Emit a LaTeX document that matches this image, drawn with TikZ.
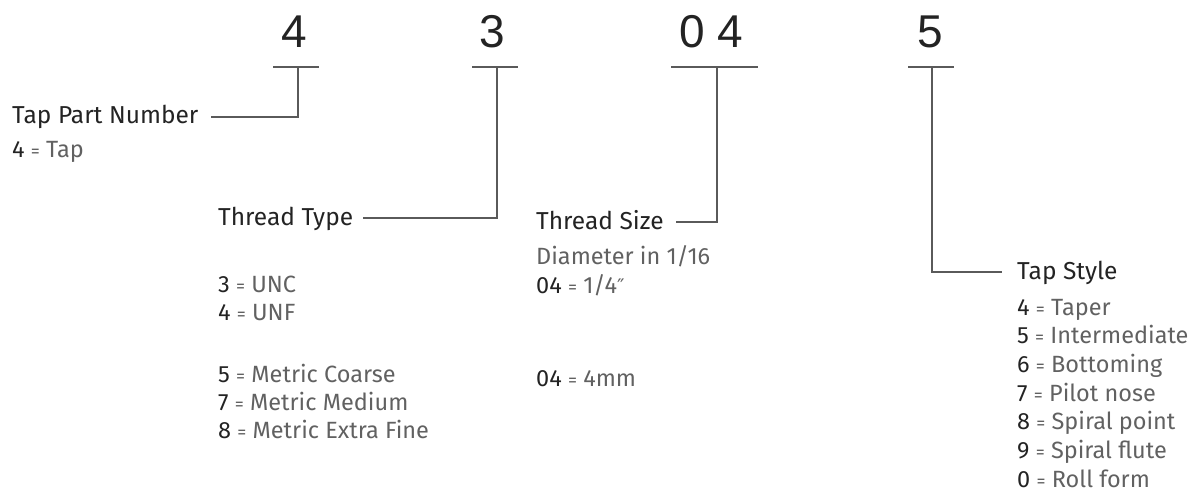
\documentclass[tikz,border=0pt]{standalone}
\usepackage{fontspec}
\setmainfont{Fira Sans}
\newfontfamily\digitfont{Liberation Sans}
\newfontfamily\symfont{DejaVu Sans}
\definecolor{ink}{HTML}{232323}
\definecolor{desc}{HTML}{616161}
\definecolor{rulec}{HTML}{5A5A5A}
\newcommand{\ent}[2]{\textcolor{ink}{#1} {\fontsize{18}{18}\selectfont=} #2}
\tikzset{
  bigdigit/.style={font=\digitfont\fontsize{46}{46}\selectfont, text=ink, inner sep=0pt, anchor=base},
  head/.style={font=\fontsize{24.5}{24.5}\selectfont, text=ink, inner sep=0pt, anchor=base west, text height=18pt, text depth=4.5pt},
  entry/.style={font=\fontsize{23.5}{23.5}\selectfont, text=desc, inner sep=0pt, anchor=base west},
  bar/.style={draw=rulec, line width=2.3pt},
  link/.style={draw=rulec, line width=2.3pt},
}
\begin{document}
\begin{tikzpicture}[x=1pt,y=-1pt]
\useasboundingbox (0,0) rectangle (1198,497);
% big digits
\node[bigdigit] (d1) at (294,48) {4};
\node[bigdigit] (d2) at (492,48) {3};
\node[bigdigit] (d3) at (711.5,48) {0 4};
\node[bigdigit] (d4) at (930.5,48) {5};
% stems on the bars
\coordinate (s1) at (298,67);
\coordinate (s2) at (497,67);
\coordinate (s3) at (717,67);
\coordinate (s4) at (932,67);
\draw[bar] (273,67) -- (319,67);
\draw[bar] (472,67) -- (518,67);
\draw[bar] (671,67) -- (758,67);
\draw[bar] (908,67) -- (954,67);
% headings
\node[head] (h1) at (12,124) {Tap Part Number};
\node[head] (h2) at (218,225) {Thread Type};
\node[head] (h3) at (536,229) {Thread Size};
\node[head] (h4) at (1017,279) {Tap Style};
% connectors
\draw[link] (s1) |- ([xshift=12pt]h1.east);
\draw[link] (s2) |- ([xshift=10pt]h2.east);
\draw[link] (s3) |- ([xshift=12pt]h3.east);
\draw[link] (s4) |- ([xshift=-15pt]h4.west);
% entries
\node[entry] (e1) at (12,158) {\ent{4}{Tap}};
\node[entry] (t1) at (218,292) {\ent{3}{UNC}};
\node[entry] (t2) at (218,320) {\ent{4}{UNF}};
\node[entry] (t3) at (218,382) {\ent{5}{Metric Coarse}};
\node[entry] (t4) at (218,410) {\ent{7}{Metric Medium}};
\node[entry] (t5) at (218,438) {\ent{8}{Metric Extra Fine}};
\node[entry] (z1) at (536,264) {Diameter in 1/16};
\node[entry] (z2) at (536,293) {\ent{04}{1/4{\symfont\fontsize{20}{20}\selectfont ″}}};
\node[entry] (z3) at (536,386) {\ent{04}{4mm}};
\node[entry] (y1) at (1017,315) {\ent{4}{Taper}};
\node[entry] (y2) at (1017,343.7) {\ent{5}{Intermediate}};
\node[entry] (y3) at (1017,372.4) {\ent{6}{Bottoming}};
\node[entry] (y4) at (1017,401.1) {\ent{7}{Pilot nose}};
\node[entry] (y5) at (1017,429.8) {\ent{8}{Spiral point}};
\node[entry] (y6) at (1017,458.5) {\ent{9}{Spiral flute}};
\node[entry] (y7) at (1017,487.2) {\ent{0}{Roll form}};
\end{tikzpicture}
\end{document}
